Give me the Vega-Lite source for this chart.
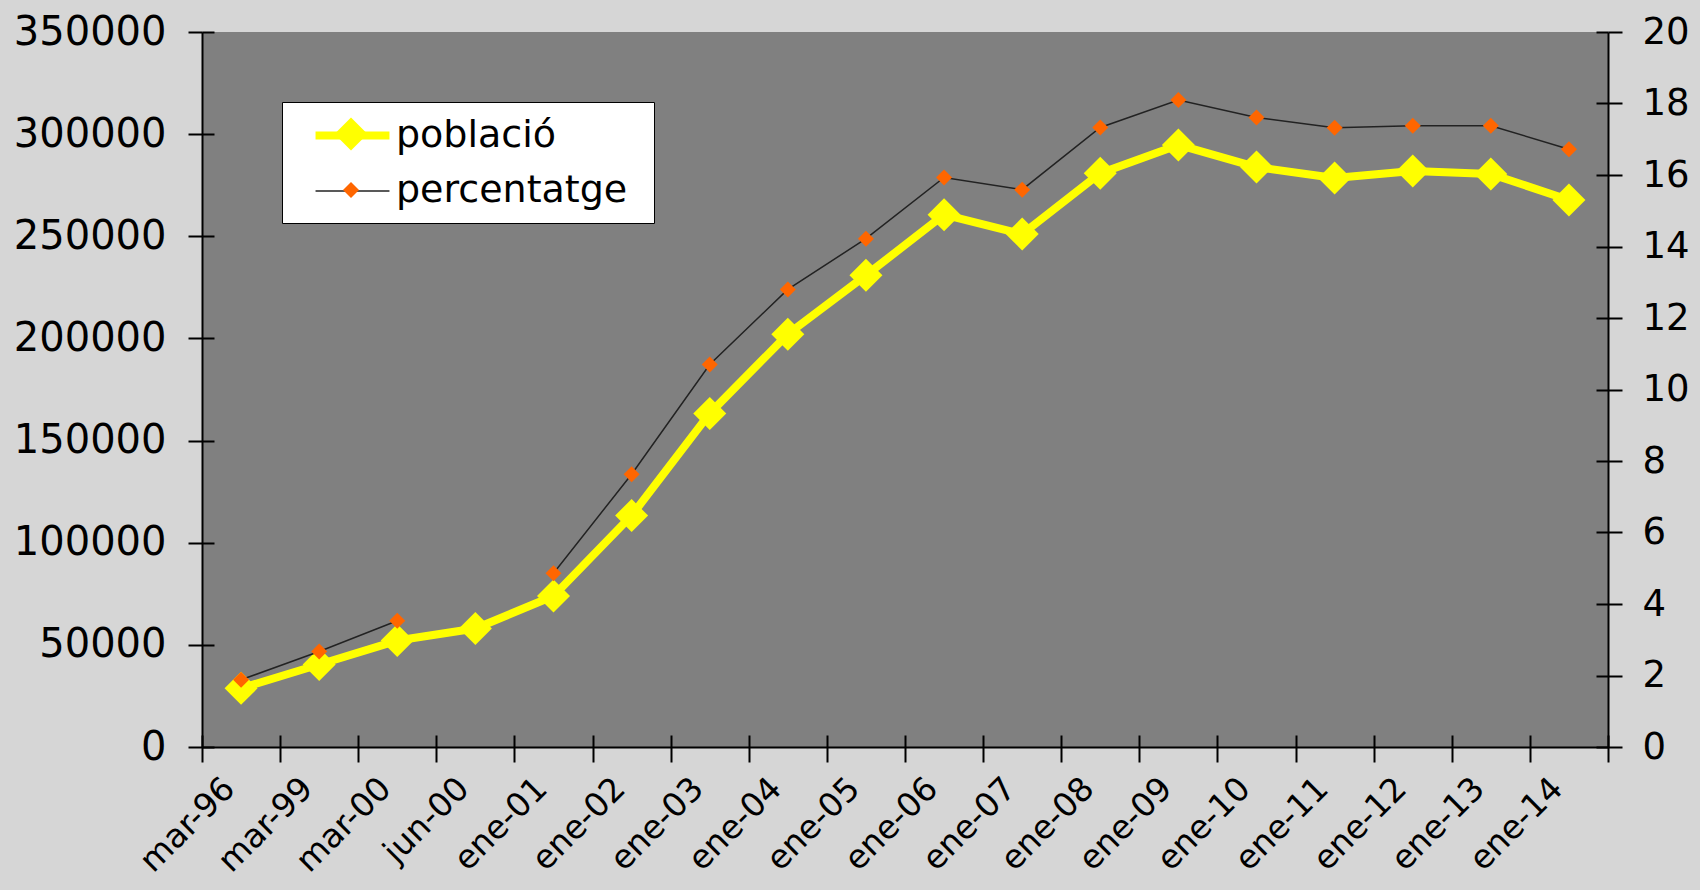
{
  "$schema": "https://vega.github.io/schema/vega-lite/v6.json",
  "width": 1406,
  "height": 715,
  "autosize": {"type": "none"},
  "padding": {"left": 202, "top": 32, "right": 92, "bottom": 143},
  "background": "#d6d6d6",
  "config": {
    "view": {"fill": "#808080", "stroke": null},
    "axis": {"labelFont": "DejaVu Sans", "labelColor": "#000000", "domainColor": "#000000", "tickColor": "#000000", "domainWidth": 2, "tickWidth": 2, "grid": false, "title": null},
    "legend": {"orient": "none", "legendX": 80, "legendY": 70, "labelFont": "DejaVu Sans", "labelFontSize": 38, "labelColor": "#000000", "labelLimit": 600, "padding": 13, "rowPadding": 17, "symbolSize": 1089, "symbolOffset": 37, "labelOffset": 23}
  },
  "data": {
    "values": [
      {"fecha": "mar-96", "poblacio": 28700, "percentatge": 1.88},
      {"fecha": "mar-99", "poblacio": 40400, "percentatge": 2.67},
      {"fecha": "mar-00", "poblacio": 52100, "percentatge": 3.53},
      {"fecha": "jun-00", "poblacio": 58000, "percentatge": null},
      {"fecha": "ene-01", "poblacio": 73900, "percentatge": 4.86},
      {"fecha": "ene-02", "poblacio": 113300, "percentatge": 7.63},
      {"fecha": "ene-03", "poblacio": 163300, "percentatge": 10.70},
      {"fecha": "ene-04", "poblacio": 202100, "percentatge": 12.80},
      {"fecha": "ene-05", "poblacio": 230900, "percentatge": 14.22},
      {"fecha": "ene-06", "poblacio": 260600, "percentatge": 15.93},
      {"fecha": "ene-07", "poblacio": 251100, "percentatge": 15.59},
      {"fecha": "ene-08", "poblacio": 280900, "percentatge": 17.33},
      {"fecha": "ene-09", "poblacio": 294700, "percentatge": 18.10},
      {"fecha": "ene-10", "poblacio": 283900, "percentatge": 17.61},
      {"fecha": "ene-11", "poblacio": 278500, "percentatge": 17.32},
      {"fecha": "ene-12", "poblacio": 282000, "percentatge": 17.38},
      {"fecha": "ene-13", "poblacio": 280500, "percentatge": 17.38},
      {"fecha": "ene-14", "poblacio": 267800, "percentatge": 16.72}
    ]
  },
  "layer": [
    {
      "mark": {"type": "line", "strokeJoin": "round"},
      "encoding": {
        "x": {"field": "fecha", "type": "ordinal", "sort": null, "scale": {"type": "band", "paddingInner": 0, "paddingOuter": 0},
          "axis": {"orient": "bottom", "labelAngle": -45, "labelAlign": "right", "labelBaseline": "bottom", "labelFontSize": 33, "tickSize": 15, "labelPadding": 33, "tickBand": "extent", "labelOverlap": false, "labelBound": false, "labelLimit": 400}},
        "y": {"field": "poblacio", "type": "quantitative", "scale": {"domain": [0, 350000], "nice": false},
          "axis": {"orient": "left", "values": [0, 50000, 100000, 150000, 200000, 250000, 300000, 350000], "format": "d", "labelFontSize": 40, "tickSize": 14, "labelPadding": 22}},
        "stroke": {"datum": "població", "scale": {"domain": ["població", "percentatge"], "range": ["#ffff00", "#222222"]},
          "legend": {"title": " ", "titleOrient": "right", "titlePadding": 14, "titleFontSize": 6, "symbolType": "M-2.24,0H2.24", "fillColor": "#ffffff", "strokeColor": "#000000"}},
        "strokeWidth": {"datum": "població", "scale": {"domain": ["població", "percentatge"], "range": [8, 1.5]},
          "legend": {"title": " ", "titleOrient": "right", "titlePadding": 14, "titleFontSize": 6, "symbolType": "M-2.24,0H2.24", "fillColor": "#ffffff", "strokeColor": "#000000"}}
      }
    },
    {
      "mark": {"type": "point", "filled": true, "opacity": 1},
      "encoding": {
        "x": {"field": "fecha", "type": "ordinal", "sort": null,
          "axis": {"orient": "bottom", "tickSize": -12, "labels": false, "domain": false, "tickBand": "extent"}},
        "y": {"field": "poblacio", "type": "quantitative", "scale": {"domain": [0, 350000], "nice": false},
          "axis": {"orient": "left", "values": [0, 50000, 100000, 150000, 200000, 250000, 300000, 350000], "tickSize": -12, "labels": false, "domain": false}},
        "shape": {"datum": "població ", "scale": {"domain": ["població ", "percentatge "], "range": ["diamond", "diamond"]},
          "legend": {"title": null, "labelOpacity": 0, "labelExpr": "' '"}},
        "fill": {"datum": "població ", "scale": {"domain": ["població ", "percentatge "], "range": ["#ffff00", "#ff6600"]},
          "legend": {"title": null, "labelOpacity": 0, "labelExpr": "' '"}},
        "size": {"datum": "població ", "scale": {"domain": ["població ", "percentatge "], "range": [1089, 256]},
          "legend": {"title": null, "labelOpacity": 0, "labelExpr": "' '"}}
      }
    },
    {
      "mark": {"type": "line", "invalid": "break-paths-show-domains"},
      "encoding": {
        "x": {"field": "fecha", "type": "ordinal", "sort": null, "axis": null},
        "y": {"field": "percentatge", "type": "quantitative", "scale": {"domain": [0, 20], "nice": false},
          "axis": {"orient": "right", "values": [0, 2, 4, 6, 8, 10, 12, 14, 16, 18, 20], "labelFontSize": 37, "tickSize": 14, "labelPadding": 20}},
        "stroke": {"datum": "percentatge"},
        "strokeWidth": {"datum": "percentatge"}
      }
    },
    {
      "mark": {"type": "point", "filled": true, "opacity": 1},
      "encoding": {
        "x": {"field": "fecha", "type": "ordinal", "sort": null, "axis": null},
        "y": {"field": "percentatge", "type": "quantitative", "scale": {"domain": [0, 20], "nice": false},
          "axis": {"orient": "right", "values": [0, 2, 4, 6, 8, 10, 12, 14, 16, 18, 20], "tickSize": -12, "labels": false, "domain": false}},
        "shape": {"datum": "percentatge "},
        "fill": {"datum": "percentatge "},
        "size": {"datum": "percentatge "}
      }
    }
  ],
  "resolve": {"scale": {"y": "independent"}, "axis": {"x": "independent"}}
}
